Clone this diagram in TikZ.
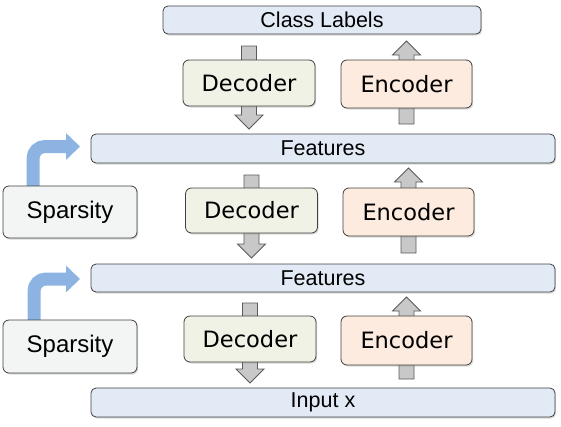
\documentclass[tikz,border=0pt]{standalone}
\usepackage{fontspec}
\setmainfont{Liberation Sans}
\newfontfamily\lucidafont{DejaVu Sans}
\usepackage{tikz}
\usetikzlibrary{arrows.meta, calc, positioning, shadows, backgrounds}

\definecolor{barblue}{HTML}{E2EBF5}
\definecolor{decgreen}{HTML}{EFF2E5}
\definecolor{encpeach}{HTML}{FCEBDE}
\definecolor{spargray}{HTML}{F3F5F5}
\definecolor{edgegray}{HTML}{404040}
\definecolor{blockfill}{HTML}{C8C8C8}
\definecolor{blockedge}{HTML}{5A5A5A}
\definecolor{sparblue}{HTML}{8DB3E2}

% gray block arrow, #1 = start, #2 = tip
\newcommand{\grayarrow}[2]{%
  \path[grayblock] let \p1=(#1), \p2=(#2), \p3=($(#2)!14pt!(#1)$) in
    (\x1-7.5pt,\y1) -- (\x1-7.5pt,\y3) -- (\x1-14pt,\y3) -- (\x1,\y2)
    -- (\x1+14pt,\y3) -- (\x1+7.5pt,\y3) -- (\x1+7.5pt,\y1) -- cycle;}

\begin{document}
\begin{tikzpicture}[x=1pt, y=-1pt,
    box/.style={draw=edgegray, line width=0.8pt, rounded corners=6pt,
      inner sep=0pt, outer sep=0pt,
      drop shadow={shadow xshift=1.2pt, shadow yshift=-1.5pt, opacity=.3}},
    bar/.style={box, fill=barblue, rounded corners=5pt, minimum width=464pt,
      font=\fontsize{21.5}{23}\selectfont},
    decbox/.style={box, fill=decgreen, minimum width=132pt, minimum height=46pt,
      font=\lucidafont\fontsize{22.5}{25}\selectfont},
    encbox/.style={box, fill=encpeach, minimum width=131pt, minimum height=48pt,
      font=\lucidafont\fontsize{22.5}{25}\selectfont},
    sparbox/.style={box, fill=spargray, minimum width=134pt, minimum height=52pt,
      font=\fontsize{24}{26}\selectfont},
    grayblock/.style={fill=blockfill, draw=blockedge, line width=0.8pt},
    sparsearrow/.style={draw=sparblue, line width=13pt, rounded corners=12pt,
      -{Triangle[length=14pt, width=26pt]}}]
  \useasboundingbox (0,0) rectangle (561,426);

  % bars
  \node[bar, minimum width=318pt, minimum height=28pt] (cls) at (322,20) {Class Labels};
  \node[bar, minimum height=29pt] (feat1) at (323,148.5) {Features};
  \node[bar, minimum height=28pt] (feat2) at (323,278) {Features};
  \node[bar, minimum height=29pt] (inp) at (323,402.5) {Input x};

  % decoders and encoders
  \node[decbox] (dec1) at (249,83) {Decoder};
  \node[encbox] (enc1) at (406.5,84) {Encoder};
  \node[decbox, minimum height=45pt] (dec2) at (251.5,210.5) {Decoder};
  \node[encbox] (enc2) at (408.5,212) {Encoder};
  \node[decbox] (dec3) at (250,339) {Decoder};
  \node[encbox, minimum height=49pt] (enc3) at (406.5,340.5) {Encoder};

  % sparsity
  \node[sparbox] (spar1) at (70,212) {Sparsity};
  \node[sparbox, minimum height=53pt] (spar2) at (70,346.5) {Sparsity};

  \begin{scope}[on background layer]
    \grayarrow{$(cls.south -| dec1)+(0,12)$}{$(feat1.north -| dec1)+(0,-5)$}
    \grayarrow{$(feat1.south -| dec2)+(0,12)$}{$(feat2.north -| dec2)+(0,-6)$}
    \grayarrow{$(feat2.south -| dec3)+(0,11)$}{$(inp.north -| dec3)+(0,-5)$}
    \grayarrow{$(feat1.north -| enc1)+(0,-10)$}{$(cls.south -| enc1)+(0,7)$}
    \grayarrow{$(feat2.north -| enc2)+(0,-11)$}{$(feat1.south -| enc2)+(0,5)$}
    \grayarrow{$(inp.north -| enc3)+(0,-9)$}{$(feat2.south -| enc3)+(0,5)$}

    \draw[sparsearrow] ([xshift=-37pt]spar1.north) |- ([xshift=-11pt, yshift=2pt]feat1.west);
    \draw[sparsearrow] ([xshift=-36pt]spar2.north) |- ([xshift=-11pt, yshift=-1pt]feat2.west);
  \end{scope}
\end{tikzpicture}
\end{document}
